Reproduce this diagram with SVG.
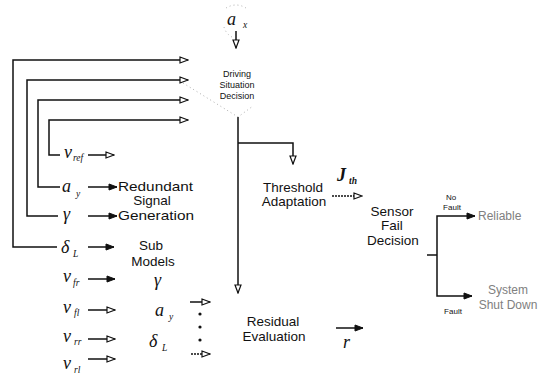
<svg xmlns="http://www.w3.org/2000/svg" width="548" height="378" viewBox="0 0 548 378">
<style>
.s{font-family:"Liberation Sans",Arial,sans-serif;fill:#111}
.lbl{font-size:13.5px}
.sm{font-size:9px}
.tiny{font-size:8px}
.gray{font-family:"Liberation Sans",Arial,sans-serif;font-size:12px;fill:#808080}
.v{font-family:"Liberation Serif","Times New Roman",serif;font-style:italic;fill:#111;font-size:18px}
.sub{font-family:"Liberation Serif","Times New Roman",serif;font-style:italic;fill:#111;font-size:9.5px}
.ln{fill:none;stroke:#111;stroke-width:1.5}
.dl{fill:none;stroke:#111;stroke-width:1.5;stroke-dasharray:2 1}
.dot{fill:none;stroke:#999;stroke-width:0.8;stroke-dasharray:1 3}
.o{marker-end:url(#open)}
.f{marker-end:url(#fill)}
</style>
<defs>
<marker id="open" markerUnits="userSpaceOnUse" markerWidth="10" markerHeight="8" refX="9" refY="4" orient="auto">
<path d="M1,1 L9,4 L1,7 Z" fill="#fff" stroke="#111" stroke-width="1.2"/>
</marker>
<marker id="fill" markerUnits="userSpaceOnUse" markerWidth="10" markerHeight="8" refX="9" refY="4" orient="auto">
<path d="M1,1 L9,4 L1,7 Z" fill="#111" stroke="#111" stroke-width="1"/>
</marker>
</defs>
<rect width="548" height="378" fill="#fff"/>

<g id="connectors">
<path class="ln o" d="M236,31 V48"/>
<path class="ln o" d="M57,247 H13 V60 H188"/>
<path class="ln o" d="M58,216 H27 V80 H188"/>
<path class="ln o" d="M60,187 H38 V100 H188"/>
<path class="ln o" d="M60,155 H49 V120 H188"/>
<path class="ln o" d="M88,155 H114"/>
<path class="ln f" d="M88,187 H117"/>
<path class="ln f" d="M88,216 H117"/>
<path class="ln f" d="M88,247 H114"/>
<path class="ln f" d="M88,279 H115"/>
<path class="ln o" d="M88,310 H115"/>
<path class="ln o" d="M88,339 H115"/>
<path class="ln o" d="M88,359 H115"/>
<path class="ln o" d="M190,302 H210"/>
<path class="dl o" d="M191,354 H210"/>
<circle cx="200" cy="314" r="1.6" fill="#111"/>
<circle cx="200" cy="327" r="1.6" fill="#111"/>
<circle cx="200" cy="340" r="1.6" fill="#111"/>
<path class="ln o" d="M238,117 V293"/>
<path class="ln o" d="M238,143 H293 V164"/>
<path class="dl o" d="M332,196 H362"/>
<path class="ln f" d="M336,328 H363"/>
<path class="ln" d="M427,255 H437"/>
<path class="ln f" d="M437,255 V216 H475"/>
<path class="ln f" d="M437,255 V296 H472"/>
<path class="dot" d="M183,83 L238,117 L253,106"/>
<path class="dot" d="M226,8 Q236,2 246,8 M224,27 Q226,34 232,37"/>
</g>

<g id="ax"><text class="v" x="227" y="25">a</text><text class="sub" x="243" y="28">x</text></g>
<g id="driving">
<text class="s sm" x="237" y="77" text-anchor="middle">Driving</text>
<text class="s sm" x="237" y="88" text-anchor="middle">Situation</text>
<text class="s sm" x="237" y="99" text-anchor="middle">Decision</text>
</g>
<g id="vref"><text class="v" x="64" y="158">v</text><text class="sub" x="73" y="161">ref</text></g>
<g id="ay"><text class="v" x="62" y="192">a</text><text class="sub" x="76" y="197">y</text></g>
<g id="gamma"><text class="v" x="63" y="220">γ</text></g>
<g id="deltaL"><text class="v" x="61" y="253">δ</text><text class="sub" x="73" y="257">L</text></g>
<g id="vfr"><text class="v" x="63" y="282">v</text><text class="sub" x="73" y="286">fr</text></g>
<g id="vfl"><text class="v" x="63" y="313">v</text><text class="sub" x="74" y="316">fl</text></g>
<g id="vrr"><text class="v" x="63" y="342">v</text><text class="sub" x="74" y="345">rr</text></g>
<g id="vrl"><text class="v" x="63" y="369">v</text><text class="sub" x="74" y="373">rl</text></g>

<g id="redundant">
<text class="s lbl" x="118" y="191" textLength="75" lengthAdjust="spacingAndGlyphs">Redundant</text>
<text class="s lbl" x="152" y="205" text-anchor="middle">Signal</text>
<text class="s lbl" x="118" y="220" textLength="76" lengthAdjust="spacingAndGlyphs">Generation</text>
</g>
<g id="submodels">
<text class="s lbl" x="151" y="250" text-anchor="middle">Sub</text>
<text class="s lbl" x="153" y="266" text-anchor="middle">Models</text>
<text class="v" x="154" y="286">γ</text>
<text class="v" x="155" y="316">a</text><text class="sub" x="169" y="320">y</text>
<text class="v" x="149" y="347">δ</text><text class="sub" x="162" y="351">L</text>
</g>
<g id="threshold">
<text class="s lbl" x="293" y="192" text-anchor="middle">Threshold</text>
<text class="s lbl" x="294" y="206" text-anchor="middle">Adaptation</text>
</g>
<g id="jth"><text class="v" x="337" y="181" font-weight="bold" font-size="16">J</text><text class="sub" x="349" y="184" font-weight="bold">th</text></g>
<g id="sensor">
<text class="s lbl" x="392" y="216" text-anchor="middle">Sensor</text>
<text class="s lbl" x="392" y="230" text-anchor="middle">Fail</text>
<text class="s lbl" x="393" y="245" text-anchor="middle">Decision</text>
</g>
<g id="residual">
<text class="s lbl" x="273" y="326" text-anchor="middle">Residual</text>
<text class="s lbl" x="274" y="341" text-anchor="middle">Evaluation</text>
</g>
<g id="r"><text class="v" x="343" y="348" font-size="16">r</text></g>
<g id="nofault">
<text class="s tiny" x="451" y="200" text-anchor="middle">No</text>
<text class="s tiny" x="452" y="210" text-anchor="middle">Fault</text>
</g>
<g id="reliable"><text class="gray" x="478" y="220">Reliable</text></g>
<g id="fault"><text class="s tiny" x="453" y="314" text-anchor="middle">Fault</text></g>
<g id="shutdown">
<text class="gray" x="508" y="294" text-anchor="middle">System</text>
<text class="gray" x="508" y="309" text-anchor="middle">Shut Down</text>
</g>
</svg>
